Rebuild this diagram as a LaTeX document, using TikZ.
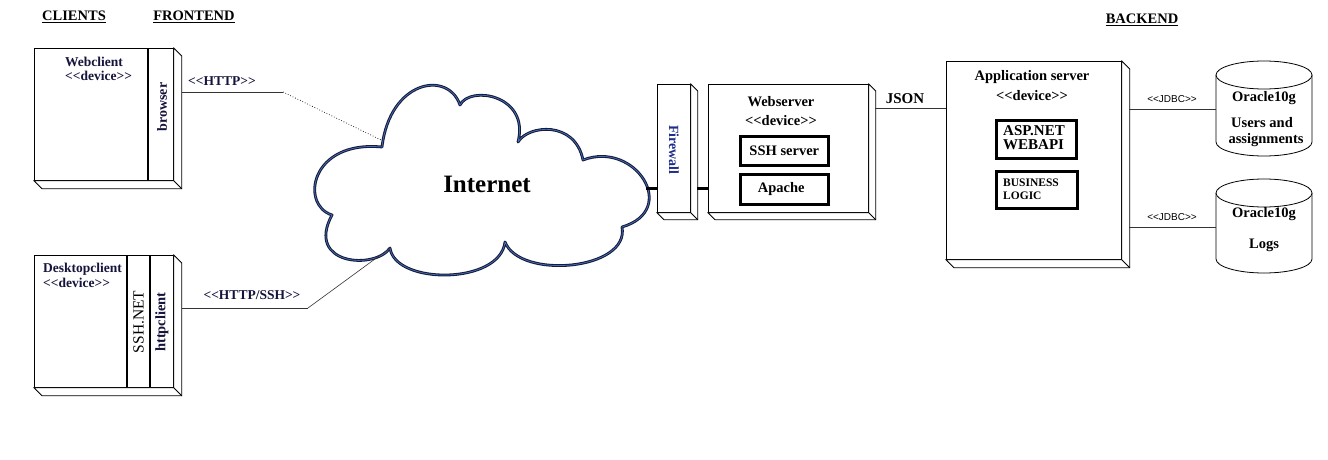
\documentclass[tikz,border=0pt]{standalone}
\usepackage{fontspec}
\setmainfont{Liberation Serif}
\newfontfamily\sansfnt{Liberation Sans}
\usetikzlibrary{calc}
\newcommand\fsz[1]{\fontsize{#1}{#1}\selectfont}
\newcommand\lgl{<\kern0pt<}
\newcommand\rgr{>\kern0pt>}
\newcommand\devtxt{\lgl device\rgr}
\newcommand\mythreed[2]{%
  \draw[line width=0.8pt, fill=white, line join=miter] (#1.north east) -- ++(#2,-#2) -- ($(#1.south east)+(#2,-#2)$) -- ($(#1.south west)+(#2,-#2)$) -- (#1.south west) -- (#1.south east) -- cycle;
  \draw[line width=0.8pt] (#1.south east) -- ++(#2,-#2);}
\definecolor{cloudnavy}{RGB}{22,28,56}
\definecolor{cloudblue}{RGB}{70,110,190}
\definecolor{fwblue}{RGB}{30,45,140}
\definecolor{txtnavy}{RGB}{20,20,60}
\begin{document}
\begin{tikzpicture}[x=1pt,y=1pt,
  front/.style={draw, fill=white, line width=0.8pt, inner sep=0pt, anchor=north west},
  thickbox/.style={draw, fill=white, line width=2.6pt, inner sep=0pt, anchor=north west},
  lbl/.style={font=\bfseries\fsz{13.5}, inner sep=0pt, text=txtnavy},
  hdr/.style={font=\bfseries\fsz{14.5}, inner sep=0pt},
  big/.style={font=\bfseries\fsz{14.5}, inner sep=0pt},
  jdbc/.style={font=\sansfnt\fsz{10}, inner sep=0pt},
  conn/.style={line width=0.8pt, draw=black!80},
  thickc/.style={line width=3pt, draw=black},
  bar/.style={line width=2.6pt, draw=black},
  cloudline/.style={draw=cloudnavy, line width=2.8pt, fill=white, line join=round,
    postaction={draw=cloudblue, line width=0.7pt}}
]
\useasboundingbox[fill=white] (0,0) rectangle (1328,-460);

% headers
\node[hdr] (hclients) at (74,-17) {\underline{CLIENTS}};
\node[hdr] (hfront) at (194,-17) {\underline{FRONTEND}};
\node[hdr] (hback) at (1142,-20) {\underline{BACKEND}};

% Webclient
\node[front, minimum width=139pt, minimum height=132pt] (webc) at (34,-48) {};
\mythreed{webc}{8}
\draw[bar] (148,-48) coordinate (wbtop) -- (148,-180) coordinate (wbbot);
\node[lbl, anchor=west] (webct) at (65,-62) {Webclient};
\node[lbl, anchor=west] (webcd) at (65,-76) {\devtxt};
\node[lbl, rotate=90] (browser) at (162,-107) {\fsz{14}browser};

% Desktopclient
\node[front, minimum width=139pt, minimum height=132pt] (desk) at (34,-255) {};
\mythreed{desk}{8}
\draw[bar] (127,-255) coordinate (db1top) -- (127,-387) coordinate (db1bot);
\draw[bar] (150,-255) coordinate (db2top) -- (150,-387) coordinate (db2bot);
\node[lbl, anchor=west] (deskt) at (43,-269) {Desktopclient};
\node[lbl, anchor=west] (deskd) at (43,-283) {\devtxt};
\node[inner sep=0pt, rotate=90, font=\fsz{15.5}] (sshnet) at (138.5,-322) {SSH.NET};
\node[lbl, rotate=90] (httpc) at (162,-322) {\fsz{14.5}httpclient};

% cloud
\draw[cloudline] (332,-215) .. controls (300,-205) and (310,-140) .. (382,-147)
 .. controls (390,-80) and (448,-70) .. (460,-105)
 .. controls (470,-85) and (530,-95) .. (518,-142)
 .. controls (528,-125) and (575,-120) .. (583,-160)
 .. controls (635,-140) and (680,-210) .. (622,-227)
 .. controls (630,-270) and (520,-280) .. (505,-242)
 .. controls (500,-285) and (395,-285) .. (390,-248)
 .. controls (375,-270) and (305,-265) .. (332,-215) -- cycle;
\node[font=\bfseries\fsz{25}, inner sep=0pt] (internet) at (487,-184) {Internet};
\coordinate (cloudB) at (381,-140);
\coordinate (cloudH) at (390,-248);
\coordinate (cloudR) at (646,-188);

% client connectors
\coordinate (wcport) at (182,-92);
\coordinate (wcbend) at (283,-92);
\draw[conn] (wcport) -- (wcbend);
\draw[line width=0.7pt, dotted] (wcbend) -- (cloudB);
\node[lbl] (httplbl) at (222,-81) {\lgl HTTP\rgr};
\coordinate (dcport) at (182,-308);
\coordinate (dcbend) at (308,-308);
\draw[conn] (dcport) -- (dcbend);
\draw[line width=0.6pt, draw=black!80] (dcbend) -- (cloudH);
\node[lbl] (httpssh) at (252,-295) {\lgl HTTP/SSH\rgr};

% Firewall
\node[front, minimum width=33pt, minimum height=128pt] (fw) at (657,-84) {};
\mythreed{fw}{7}
\node[inner sep=0pt, rotate=-90, font=\bfseries\fsz{14}, text=fwblue] (fwt) at (674,-150) {Firewall};
\draw[thickc] (cloudR) -- (fw.west |- cloudR);

% Webserver
\node[front, minimum width=160pt, minimum height=128pt] (ws) at (708,-84) {};
\mythreed{ws}{7}
\coordinate (fwport) at (697,-188);
\draw[thickc] (fwport) -- (ws.west |- fwport);
\node[big] (wst) at (781,-102) {Webserver};
\node[big] (wsd) at (781,-121) {\devtxt};
\node[thickbox, minimum width=88pt, minimum height=29pt] (sshs) at (739,-135) {};
\node[big] (sshst) at (sshs.center) {SSH server};
\node[thickbox, minimum width=88pt, minimum height=30pt] (apache) at (739,-173) {};
\node[big] (apachet) at ($(apache.center)+(-3,0)$) {Apache};

% JSON
\coordinate (wsport) at (875,-108);
\node[font=\bfseries\fsz{15}, inner sep=0pt] (json) at (905,-99) {JSON};

% Application server
\node[front, minimum width=175pt, minimum height=198pt] (app) at (946,-61) {};
\mythreed{app}{8}
\draw[conn] (wsport) -- (app.west |- wsport);
\node[big] (appt) at (1032,-77) {Application server};
\node[big] (appd) at (1032,-96) {\devtxt};
\node[thickbox, minimum width=80pt, minimum height=38pt] (asp) at (995,-119) {};
\node[font=\bfseries\fsz{15}, inner sep=0pt, anchor=west, align=left] (aspt) at (1003,-137.5) {ASP.NET\\[-1pt]WEBAPI};
\node[thickbox, minimum width=81pt, minimum height=37pt] (bl) at (995,-170) {};
\node[font=\bfseries\fsz{11.5}, inner sep=0pt, anchor=west, align=left] (blt) at (1003,-189) {BUSINESS\\[1pt]LOGIC};

% databases
\node[inner sep=0pt, minimum width=96pt, minimum height=95pt] (dbA) at (1264,-108.5) {};
\draw[line width=0.8pt, fill=white] (1216,-75) -- (1216,-142) arc[start angle=180, end angle=360, x radius=48, y radius=14] -- (1312,-75);
\draw[line width=0.8pt, fill=white] (1264,-75) ellipse[x radius=48, y radius=14];
\node[big] (dbAt1) at (1264,-98) {Oracle10g};
\node[big] (dbAt2) at (1262,-123) {Users and};
\node[big] (dbAt3) at (1266,-140) {assignments};

\node[inner sep=0pt, minimum width=96pt, minimum height=94pt] (dbB) at (1264,-226) {};
\draw[line width=0.8pt, fill=white] (1216,-193) -- (1216,-259) arc[start angle=180, end angle=360, x radius=48, y radius=14] -- (1312,-193);
\draw[line width=0.8pt, fill=white] (1264,-193) ellipse[x radius=48, y radius=14];
\node[big] (dbBt1) at (1264,-214) {Oracle10g};
\node[big] (dbBt2) at (1264,-245) {Logs};

% JDBC
\coordinate (appportA) at (1129,-109);
\coordinate (appportB) at (1129,-227);
\draw[conn] (appportA) -- (dbA.west |- appportA);
\draw[conn] (appportB) -- (dbB.west |- appportB);
\node[jdbc] (jdbcA) at (1172,-99) {\lgl JDBC\rgr};
\node[jdbc] (jdbcB) at (1172,-217) {\lgl JDBC\rgr};
\end{tikzpicture}
\end{document}
